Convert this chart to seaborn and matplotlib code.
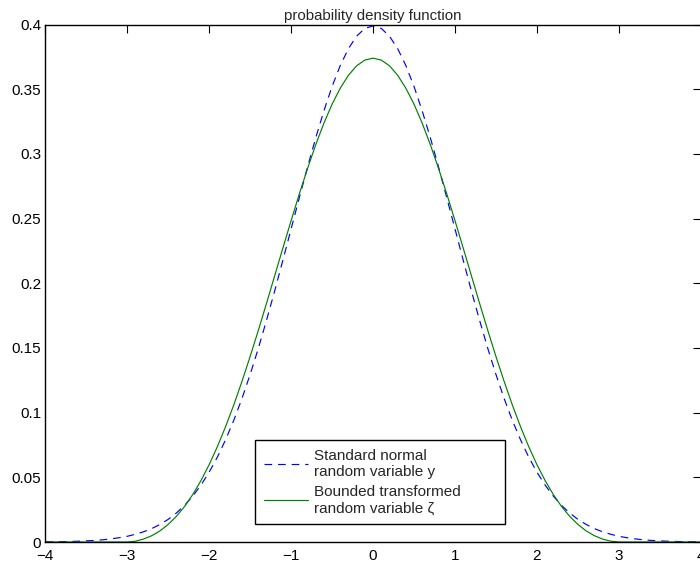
import matplotlib
matplotlib.use("Agg")
import matplotlib.pyplot as plt
import seaborn as sns
import pandas as pd

# x grid (values at steps of 0.1)
x_vals = [-4.0, -3.9, -3.8, -3.7, -3.6, -3.5, -3.4, -3.3, -3.2, -3.1,
          -3.0, -2.9, -2.8, -2.7, -2.6, -2.5, -2.4, -2.3, -2.2, -2.1,
          -2.0, -1.9, -1.8, -1.7, -1.6, -1.5, -1.4, -1.3, -1.2, -1.1,
          -1.0, -0.9, -0.8, -0.7, -0.6, -0.5, -0.4, -0.3, -0.2, -0.1,
          0.0, 0.1, 0.2, 0.3, 0.4, 0.5, 0.6, 0.7, 0.8, 0.9,
          1.0, 1.1, 1.2, 1.3, 1.4, 1.5, 1.6, 1.7, 1.8, 1.9,
          2.0, 2.1, 2.2, 2.3, 2.4, 2.5, 2.6, 2.7, 2.8, 2.9,
          3.0, 3.1, 3.2, 3.3, 3.4, 3.5, 3.6, 3.7, 3.8, 3.9, 4.0]

# Standard normal random variable y (dashed blue)
normal_pdf = [0.0001, 0.0002, 0.0003, 0.0004, 0.0006, 0.0009, 0.0012, 0.0017, 0.0024, 0.0033,
              0.0044, 0.0060, 0.0079, 0.0104, 0.0136, 0.0175, 0.0224, 0.0283, 0.0355, 0.0440,
              0.0540, 0.0656, 0.0790, 0.0940, 0.1109, 0.1295, 0.1497, 0.1714, 0.1942, 0.2179,
              0.2420, 0.2661, 0.2897, 0.3123, 0.3332, 0.3521, 0.3683, 0.3814, 0.3910, 0.3970,
              0.3989, 0.3970, 0.3910, 0.3814, 0.3683, 0.3521, 0.3332, 0.3123, 0.2897, 0.2661,
              0.2420, 0.2179, 0.1942, 0.1714, 0.1497, 0.1295, 0.1109, 0.0940, 0.0790, 0.0656,
              0.0540, 0.0440, 0.0355, 0.0283, 0.0224, 0.0175, 0.0136, 0.0104, 0.0079, 0.0060,
              0.0044, 0.0033, 0.0024, 0.0017, 0.0012, 0.0009, 0.0006, 0.0004, 0.0003, 0.0002, 0.0001]

# Bounded transformed random variable zeta (solid green)
bounded_pdf = [0.0, 0.0, 0.0, 0.0, 0.0, 0.0, 0.0, 0.0, 0.0, 0.0,
               0.0, 0.0006, 0.0023, 0.0049, 0.0086, 0.0136, 0.0198, 0.0275, 0.0367, 0.0475,
               0.0598, 0.0737, 0.0891, 0.1059, 0.1241, 0.1434, 0.1636, 0.1845, 0.2059, 0.2273,
               0.2484, 0.2690, 0.2886, 0.3070, 0.3237, 0.3384, 0.3508, 0.3608, 0.3681, 0.3725,
               0.3740, 0.3725, 0.3681, 0.3608, 0.3508, 0.3384, 0.3237, 0.3070, 0.2886, 0.2690,
               0.2484, 0.2273, 0.2059, 0.1845, 0.1636, 0.1434, 0.1241, 0.1059, 0.0891, 0.0737,
               0.0598, 0.0475, 0.0367, 0.0275, 0.0198, 0.0136, 0.0086, 0.0049, 0.0023, 0.0006,
               0.0, 0.0, 0.0, 0.0, 0.0, 0.0, 0.0, 0.0, 0.0, 0.0, 0.0]

labels = ["Standard normal\nrandom variable y", "Bounded transformed\nrandom variable \u03b6"]
title = "probability density function"
x_ticks = [-4, -3, -2, -1, 0, 1, 2, 3, 4]
y_ticks = [0, 0.05, 0.1, 0.15, 0.2, 0.25, 0.3, 0.35, 0.4]
y_tick_labels = ["0", "0.05", "0.1", "0.15", "0.2", "0.25", "0.3", "0.35", "0.4"]

sns.set_style("white")
plt.rcParams["font.family"] = ["Liberation Sans", "DejaVu Sans"]
plt.rcParams["axes.unicode_minus"] = True

df = pd.concat([
    pd.DataFrame({"x": x_vals, "pdf": normal_pdf, "series": labels[0]}),
    pd.DataFrame({"x": x_vals, "pdf": bounded_pdf, "series": labels[1]}),
])

fig = plt.figure(figsize=(7.0, 5.66), dpi=100)
ax = fig.add_axes([45.3 / 700, 24 / 566, 655.5 / 700, 517.5 / 566])

sns.lineplot(data=df, x="x", y="pdf", hue="series", style="series",
             palette={labels[0]: (0, 0, 1), labels[1]: (0, 0.5, 0)},
             dashes={labels[0]: (6.5, 5.0), labels[1]: ""},
             linewidth=0.85, ax=ax, legend=True)

ax.set_xlim(-4, 4)
ax.set_ylim(0, 0.4)
ax.set_xticks(x_ticks)
ax.set_yticks(y_ticks)
ax.set_yticklabels(y_tick_labels)
ax.set_xlabel("")
ax.set_ylabel("")
ax.set_title(title, fontsize=10.8, pad=3)
ax.tick_params(direction="in", length=6, width=0.8, labelsize=11,
               top=True, right=True, colors="black")
ax.tick_params(axis="x", pad=5)
ax.tick_params(axis="y", pad=3)
for s in ax.spines.values():
    s.set_color("black")
    s.set_linewidth(1.0)
    s.set_visible(True)

leg = ax.legend(loc="lower left", bbox_to_anchor=(0.3197, 0.034, 0.3814, 0.1),
                mode="expand", fontsize=11, frameon=True, fancybox=False,
                edgecolor="black", framealpha=1, handlelength=2.9,
                borderpad=0.6, labelspacing=0.4, handletextpad=0.35,
                borderaxespad=0)
leg.get_frame().set_linewidth(1.0)

fig.savefig("out.png", dpi=100)
